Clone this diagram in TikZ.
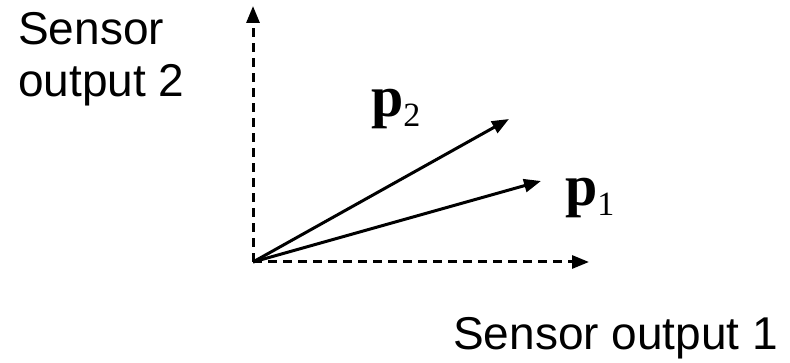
\documentclass[tikz,border=0pt]{standalone}
\usepackage{fontspec}
\setmainfont{Liberation Sans}
\newfontfamily\serifvec{Liberation Serif}
\usetikzlibrary{arrows.meta, positioning}

\begin{document}
\begin{tikzpicture}[
    x=1pt, y=-1pt,
    >={Triangle[length=17pt, width=13pt]},
    axisline/.style={->, line width=3pt, dash pattern=on 9pt off 6pt},
    vec/.style={->, line width=3pt},
    lbl/.style={font=\fontsize{46}{53}\selectfont, inner sep=0pt, anchor=base west},
    vlbl/.style={font=\serifvec\fontsize{58}{58}\selectfont\bfseries, inner sep=0pt, anchor=base west},
]
\useasboundingbox (0,0) rectangle (790,363);
% === Axes ===
\coordinate (O) at (253,262);
\coordinate (ytip) at (253,6);
\coordinate (xtip) at (589,262);
\draw[axisline] (O) -- (ytip);
\draw[axisline] (O) -- (xtip);
% axis labels
\node[lbl] (ylab1) at (18,45) {Sensor};
\node[lbl] (ylab2) at (18,97) {output 2};
\node[lbl] (xlab) at (453,350) {Sensor output 1};
% === Vectors ===
\coordinate (p2tip) at (509,119);
\coordinate (p1tip) at (541,181);
\draw[vec] (O) -- (p2tip);
\draw[vec] (O) -- (p1tip);
% vector labels
\node[vlbl] (p2lab) at (371,117) {p\raisebox{-0.16em}{\mdseries\fontsize{34}{34}\selectfont 2}};
\node[vlbl] (p1lab) at (565,206) {p\raisebox{-0.16em}{\mdseries\fontsize{34}{34}\selectfont 1}};
\end{tikzpicture}
\end{document}
